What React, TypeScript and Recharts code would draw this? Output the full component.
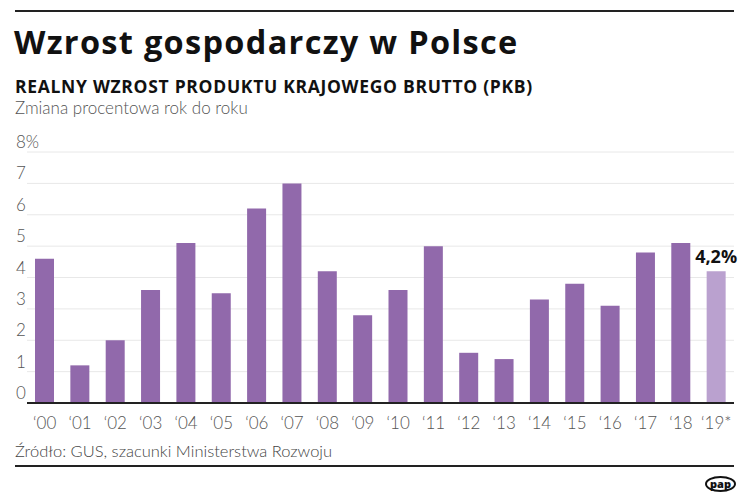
import React from "react";
import {
  BarChart,
  Bar,
  XAxis,
  YAxis,
  CartesianGrid,
  Cell,
  LabelList,
} from "recharts";

const years = [
  "‘00", "‘01", "‘02", "‘03", "‘04", "‘05", "‘06", "‘07", "‘08", "‘09",
  "‘10", "‘11", "‘12", "‘13", "‘14", "‘15", "‘16", "‘17", "‘18", "‘19*",
];
const growth = [
  4.6, 1.2, 2.0, 3.6, 5.1, 3.5, 6.2, 7.0, 4.2, 2.8,
  3.6, 5.0, 1.6, 1.4, 3.3, 3.8, 3.1, 4.8, 5.1, 4.2,
];
const yTicks = [0, 1, 2, 3, 4, 5, 6, 7, 8];
const forecastIndex = 19;

const data = years.map((year, i) => ({ year, value: growth[i] }));

const light = "Lato, 'Open Sans', sans-serif";
const bold = "'Open Sans', 'Noto Sans', sans-serif";

function YTick(props: any) {
  const { y, payload } = props;
  return (
    <text x={16} y={y - 4} fill="#555" fontSize={17} fontFamily={light} fontWeight={300}>
      {payload.value === 8 ? "8%" : payload.value}
    </text>
  );
}

function XTick(props: any) {
  const { x, y, payload } = props;
  return (
    <text x={x} y={y + 18} textAnchor="middle" fill="#555" fontSize={17} fontFamily={light} fontWeight={300}>
      {payload.value}
    </text>
  );
}

function ForecastLabel(props: any) {
  const { x, y, width, index, value } = props;
  if (index !== forecastIndex) return null;
  return (
    <text x={x + width / 2} y={y - 8} textAnchor="middle" fill="#111" fontSize={18} fontWeight={700} fontFamily={bold}>
      {String(value).replace(".", ",")}%
    </text>
  );
}

export default function App() {
  return (
    <div style={{ position: "absolute", left: 0, top: 0, width: 750, height: 503, background: "#fff" }}>
      <div style={{ position: "absolute", left: 15, top: 10, width: 719, borderTop: "2px solid #222" }} />
      <div style={{ position: "absolute", left: 14, top: 21, fontFamily: bold, fontWeight: 700, fontSize: 32.5, letterSpacing: 1.3, color: "#111", lineHeight: "42px" }}>
        Wzrost gospodarczy w Polsce
      </div>
      <div style={{ position: "absolute", left: 15, top: 75, fontFamily: bold, fontWeight: 700, fontSize: 17.5, letterSpacing: 0.7, color: "#111", lineHeight: "22px" }}>
        REALNY WZROST PRODUKTU KRAJOWEGO BRUTTO (PKB)
      </div>
      <div style={{ position: "absolute", left: 15, top: 97, fontFamily: light, fontWeight: 300, fontSize: 17, color: "#555", lineHeight: "22px" }}>
        Zmiana procentowa rok do roku
      </div>

      <div style={{ position: "absolute", left: 0, top: 0 }}>
        <BarChart
          width={750}
          height={503}
          data={data}
          margin={{ top: 152, right: 16, bottom: 70, left: 0 }}
        >
          <CartesianGrid vertical={false} stroke="#e8e8e8" />
          <YAxis
            width={27}
            domain={[0, 8]}
            ticks={yTicks}
            axisLine={false}
            tickLine={false}
            tick={<YTick />}
          />
          <XAxis
            dataKey="year"
            height={30}
            interval={0}
            axisLine={{ stroke: "#222", strokeWidth: 2 }}
            tickLine={false}
            tick={<XTick />}
          />
          <Bar dataKey="value" barSize={19} isAnimationActive={false}>
            {data.map((d, i) => (
              <Cell key={d.year} fill={i === forecastIndex ? "#baa1cf" : "#9169ab"} />
            ))}
            <LabelList dataKey="value" content={<ForecastLabel />} />
          </Bar>
        </BarChart>
      </div>

      <div style={{ position: "absolute", left: 15, top: 440, fontFamily: light, fontWeight: 300, fontSize: 16.5, color: "#444", lineHeight: "22px" }}>
        Źródło: GUS, szacunki Ministerstwa Rozwoju
      </div>
      <div style={{ position: "absolute", left: 15, top: 465, width: 719, borderTop: "2px solid #222" }} />
      <div
        style={{
          position: "absolute", left: 705, top: 476, width: 27, height: 12,
          border: "2px solid #111", borderRadius: "50%", fontFamily: bold,
          fontWeight: 800, fontSize: 11, lineHeight: "11px", textAlign: "center", color: "#111",
        }}
      >
        pap
      </div>
    </div>
  );
}
